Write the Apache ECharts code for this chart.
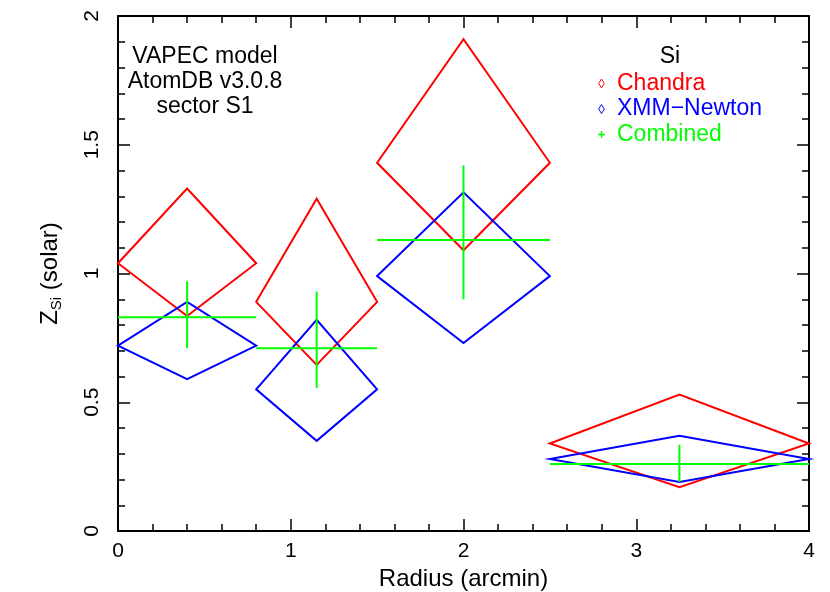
<!DOCTYPE html>
<html>
<head>
<meta charset="utf-8">
<script src="https://cdn.jsdelivr.net/npm/echarts@6/dist/echarts.min.js"></script>
<style>
  html, body { margin: 0; padding: 0; background: #fff; }
  #chart { width: 830px; height: 592px; }
</style>
</head>
<body>
<div id="chart"></div>
<script>
// radius bins (arcmin): centre and half width
var radius = [0.4, 1.15, 2, 3.25];
var radiusErr = [0.4, 0.35, 0.5, 0.75];

// Si abundance (solar) with lower / upper bounds
var chandraZ = [1.04, 0.89, 1.43, 0.34];
var chandraLo = [0.835, 0.645, 1.09, 0.17];
var chandraHi = [1.33, 1.29, 1.91, 0.53];

var xmmZ = [0.72, 0.55, 0.99, 0.28];
var xmmLo = [0.59, 0.35, 0.73, 0.19];
var xmmHi = [0.89, 0.82, 1.315, 0.37];

var combZ = [0.83, 0.71, 1.13, 0.26];
var combLo = [0.71, 0.555, 0.90, 0.19];
var combHi = [0.97, 0.93, 1.42, 0.335];

var xTicks = ['0', '1', '2', '3', '4'];
var yTicks = ['0', '0.5', '1', '1.5', '2'];

var FONT = 'Liberation Sans';

function rows(z, lo, hi) {
  var out = [];
  for (var i = 0; i < radius.length; i++) {
    out.push([radius[i], radiusErr[i], z[i], lo[i], hi[i]]);
  }
  return out;
}

// diamond: left/right corners at value, top/bottom at the error bounds
function diamond(params, api) {
  var x = api.value(0), dx = api.value(1), y = api.value(2);
  var pts = [
    api.coord([x - dx, y]),
    api.coord([x, api.value(4)]),
    api.coord([x + dx, y]),
    api.coord([x, api.value(3)])
  ];
  return {
    type: 'polygon',
    shape: { points: pts },
    style: { fill: 'none', stroke: api.visual('color'), lineWidth: 2 }
  };
}

function cross(params, api) {
  var x = api.value(0), dx = api.value(1), y = api.value(2);
  var c = api.visual('color');
  var a = api.coord([x - dx, y]), b = api.coord([x + dx, y]);
  var t = api.coord([x, api.value(4)]), d = api.coord([x, api.value(3)]);
  return {
    type: 'group',
    children: [
      { type: 'line', shape: { x1: a[0], y1: a[1], x2: b[0], y2: b[1] }, style: { stroke: c, lineWidth: 2 } },
      { type: 'line', shape: { x1: t[0], y1: t[1], x2: d[0], y2: d[1] }, style: { stroke: c, lineWidth: 2 } }
    ]
  };
}

function axisBase(show) {
  return {
    type: 'value',
    axisLine: { show: true, onZero: false, lineStyle: { color: '#000', width: 2 } },
    axisTick: { show: true, inside: true, length: 12, lineStyle: { color: '#000', width: 1.5 } },
    minorTick: { show: true, splitNumber: 5, length: 7, lineStyle: { color: '#000', width: 1.5 } },
    splitLine: { show: false },
    axisLabel: { show: show, color: '#000', fontSize: 21, fontFamily: FONT }
  };
}

var xMain = axisBase(true);
xMain.min = 0; xMain.max = 4; xMain.interval = 1; xMain.position = 'bottom';
xMain.axisLabel.margin = 10;
xMain.axisLabel.formatter = function (v) { return xTicks[Math.round(v)]; };
xMain.name = 'Radius (arcmin)';
xMain.nameLocation = 'middle';
xMain.nameGap = 32;
xMain.nameTextStyle = { color: '#000', fontSize: 24, fontFamily: FONT };
var xTop = axisBase(false);
xTop.min = 0; xTop.max = 4; xTop.interval = 1; xTop.position = 'top';

var yMain = axisBase(true);
yMain.min = 0; yMain.max = 2; yMain.interval = 0.5; yMain.position = 'left';
yMain.axisLabel.rotate = 90;
yMain.axisLabel.margin = 15;
yMain.axisLabel.formatter = function (v) { return yTicks[Math.round(v * 2)]; };
yMain.name = '{z|Z}{s|Si}{z| (solar)}';
yMain.nameLocation = 'middle';
yMain.nameRotate = 90;
yMain.nameGap = 54;
yMain.nameTextStyle = {
  color: '#000', fontFamily: FONT,
  rich: {
    z: { fontSize: 24, fontFamily: FONT, color: '#000', lineHeight: 28 },
    s: { fontSize: 15, fontFamily: FONT, color: '#000', verticalAlign: 'bottom', lineHeight: 28, padding: [7, 0, 0, 0] }
  }
};
var yRight = axisBase(false);
yRight.min = 0; yRight.max = 2; yRight.interval = 0.5; yRight.position = 'right';

var chart = echarts.init(document.getElementById('chart'));

var option = {
  animation: false,
  backgroundColor: '#fff',
  grid: { left: 118, right: 21, top: 16, bottom: 61, containLabel: false, outerBoundsMode: 'none' },
  xAxis: [xMain, xTop],
  yAxis: [yMain, yRight],
  legend: {
    orient: 'vertical',
    left: 598,
    top: 72,
    padding: 0,
    itemWidth: 7,
    itemHeight: 9,
    itemGap: 2.5,
    selectedMode: false,
    textStyle: { fontSize: 23, fontFamily: FONT, padding: [0, 0, 0, 7] },
    data: [
      { name: 'Chandra', icon: 'path://M5,0 L10,8 L5,16 L0,8 Z',
        itemStyle: { color: 'transparent', borderColor: '#ff0000', borderWidth: 1 },
        textStyle: { color: '#ff0000' } },
      { name: 'XMM\u2212Newton', icon: 'path://M5,0 L10,8 L5,16 L0,8 Z',
        itemStyle: { color: 'transparent', borderColor: '#0000ff', borderWidth: 1 },
        textStyle: { color: '#0000ff' } },
      { name: 'Combined', icon: 'path://M4,0 L6,0 L6,4 L10,4 L10,6 L6,6 L6,10 L4,10 L4,6 L0,6 L0,4 L4,4 Z',
        itemStyle: { color: '#00ff00' },
        textStyle: { color: '#00ff00' } }
    ]
  },
  graphic: [
    { type: 'text', x: 205, y: 81.5,
      style: { text: 'VAPEC model\nAtomDB v3.0.8\nsector S1', align: 'center', verticalAlign: 'middle',
               fill: '#000', font: '23px "Liberation Sans"', lineHeight: 25 } },
    { type: 'text', x: 670, y: 57,
      style: { text: 'Si', align: 'center', verticalAlign: 'middle', fill: '#000', font: '23px "Liberation Sans"' } }
  ],
  series: [
    { name: 'Chandra', type: 'custom', renderItem: diamond, color: '#ff0000',
      encode: { x: 0, y: [2, 3, 4] }, data: rows(chandraZ, chandraLo, chandraHi), z: 2 },
    { name: 'XMM\u2212Newton', type: 'custom', renderItem: diamond, color: '#0000ff',
      encode: { x: 0, y: [2, 3, 4] }, data: rows(xmmZ, xmmLo, xmmHi), z: 3 },
    { name: 'Combined', type: 'custom', renderItem: cross, color: '#00ff00',
      encode: { x: 0, y: [2, 3, 4] }, data: rows(combZ, combLo, combHi), z: 4 }
  ]
};

chart.setOption(option);
</script>
</body>
</html>
